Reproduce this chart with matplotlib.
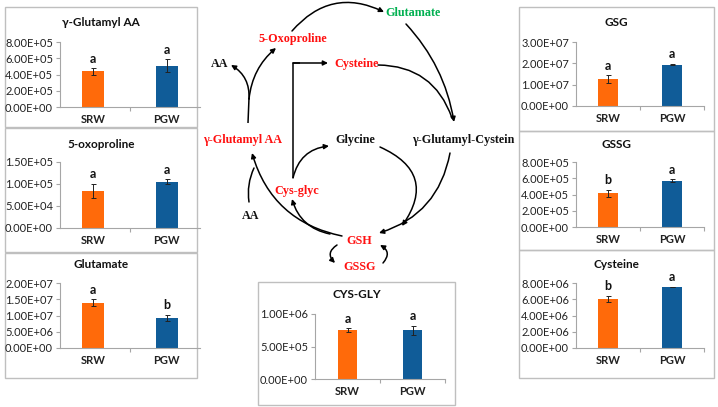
import matplotlib
matplotlib.use("Agg")
import matplotlib.pyplot as plt
from matplotlib.patches import FancyArrowPatch, Rectangle
from matplotlib.ticker import FixedLocator, FuncFormatter

# ---------------- data ----------------
groups = ["SRW", "PGW"]

titles = ["γ-Glutamyl AA", "5-oxoproline", "Glutamate", "GSG", "GSSG", "Cysteine", "CYS-GLY"]

glu_aa_vals = [4.4e5, 5.1e5]
glu_aa_err = [0.4e5, 0.75e5]
glu_aa_let = ["a", "a"]

oxo_vals = [0.85e5, 1.05e5]
oxo_err = [0.16e5, 0.06e5]
oxo_let = ["a", "a"]

glutamate_vals = [1.40e7, 0.93e7]
glutamate_err = [0.10e7, 0.10e7]
glutamate_let = ["a", "b"]

gsg_vals = [1.27e7, 1.94e7]
gsg_err = [0.18e7, 0.04e7]
gsg_let = ["a", "a"]

gssg_vals = [4.15e5, 5.72e5]
gssg_err = [0.45e5, 0.17e5]
gssg_let = ["b", "a"]

cys_vals = [6.05e6, 7.5e6]
cys_err = [0.4e6, 0.05e6]
cys_let = ["b", "a"]

cysgly_vals = [7.5e5, 7.5e5]
cysgly_err = [0.3e5, 0.7e5]
cysgly_let = ["a", "a"]

ymax = [8e5, 1.5e5, 2e7, 3e7, 8e5, 8e6, 1e6]
ystep = [2e5, 5e4, 5e6, 1e7, 2e5, 2e6, 5e5]

ORANGE = "#FF6A0A"
BLUE = "#105C98"
GRAY = "#A6A6A6"

W, H = 718, 407
fig = plt.figure(figsize=(W / 100, H / 100), dpi=100)
fig.patch.set_facecolor("white")

# overlay in pixel coordinates
ov = fig.add_axes([0, 0, 1, 1])
ov.set_xlim(0, W)
ov.set_ylim(H, 0)
ov.axis("off")

SANS = ["Lato", "DejaVu Sans"]
SERIF = ["Liberation Serif", "DejaVu Serif"]

boxes = [(5, 7, 197, 127), (5, 128, 197, 252), (5, 253, 197, 378),
         (519, 7, 714, 131), (519, 131, 714, 250), (519, 250, 714, 378),
         (258, 282, 455, 405)]
for (x0, y0, x1, y1) in boxes:
    ov.add_patch(Rectangle((x0, y0), x1 - x0, y1 - y0, fill=False,
                           edgecolor="#BFBFBF", lw=1.0))

# axes placements: (x_left, x_right, y_top(px at ymax), y_zero, title_y, xlim)
axes_spec = [
    (60, 200, 42, 107, 23, (-0.45, 1.45)),
    (60, 200, 162, 228, 145, (-0.45, 1.45)),
    (60, 200, 283, 348, 265, (-0.45, 1.45)),
    (576, 704, 42, 106, 22, (-0.5, 1.5)),
    (576, 704, 162, 227, 144, (-0.5, 1.5)),
    (576, 704, 283, 348, 265, (-0.5, 1.5)),
    (315, 445, 314, 379, 295, (-0.5, 1.5)),
]
series = [
    (glu_aa_vals, glu_aa_err, glu_aa_let),
    (oxo_vals, oxo_err, oxo_let),
    (glutamate_vals, glutamate_err, glutamate_let),
    (gsg_vals, gsg_err, gsg_let),
    (gssg_vals, gssg_err, gssg_let),
    (cys_vals, cys_err, cys_let),
    (cysgly_vals, cysgly_err, cysgly_let),
]

fmt = FuncFormatter(lambda v, p: "%.2E" % v)

for i, ((xl, xr, yt, yz, ty, xlim), (vals, errs, lets)) in enumerate(zip(axes_spec, series)):
    ax = fig.add_axes([xl / W, 1 - yz / H, (xr - xl) / W, (yz - yt) / H])
    ax.patch.set_alpha(0)
    x = list(range(len(groups)))
    ax.bar(x, vals, width=0.3, color=[ORANGE, BLUE], zorder=2)
    ax.errorbar(x, vals, yerr=errs, fmt="none", ecolor="#222222",
                elinewidth=0.7, capsize=1.8, capthick=0.7, zorder=3)
    for xi, v, e, l in zip(x, vals, errs, lets):
        ax.annotate(l, (xi, v + e), xytext=(0, 2.5), textcoords="offset points",
                    ha="center", va="bottom", fontsize=9, fontweight="bold",
                    family=SANS, color="#111111")
    ax.set_xlim(*xlim)
    ax.set_ylim(0, ymax[i])
    n = int(round(ymax[i] / ystep[i]))
    ax.yaxis.set_major_locator(FixedLocator([k * ystep[i] for k in range(n + 1)]))
    ax.yaxis.set_major_formatter(fmt)
    ax.xaxis.set_major_locator(FixedLocator([0.5, 1.5]))
    ax.xaxis.set_major_formatter(FuncFormatter(lambda v, p: ""))
    ax.xaxis.set_minor_locator(FixedLocator(x))
    ax.set_xticklabels(groups, minor=True)
    ax.tick_params(axis="x", which="minor", length=0, pad=5, labelsize=8)
    ax.tick_params(axis="x", which="major", length=3, color=GRAY, width=0.8)
    ax.tick_params(axis="y", length=3, color=GRAY, width=0.8, labelsize=8, pad=2,
                   labelcolor="#222222")
    for lab in ax.get_xticklabels(minor=True):
        lab.set_fontweight("bold")
        lab.set_family(SANS)
        lab.set_color("#222222")
    for lab in ax.get_yticklabels():
        lab.set_family(SANS)
    for s in ("top", "right"):
        ax.spines[s].set_visible(False)
    for s in ("left", "bottom"):
        ax.spines[s].set_color(GRAY)
        ax.spines[s].set_linewidth(0.8)
    bx0, _, bx1, _ = boxes[i]
    ov.text((bx0 + bx1) / 2, ty, titles[i], ha="center", va="center",
            fontsize=8.5, fontweight="bold", family=SANS, color="#111111")

# ---------------- pathway diagram ----------------
RED = "#FF1010"
GREEN = "#00B050"
labels = [
    ("Glutamate", 413, 13, GREEN),
    ("5-Oxoproline", 293, 39, RED),
    ("AA", 220, 64, "#111111"),
    ("Cysteine", 357, 64, RED),
    ("γ-Glutamyl AA", 243, 140, RED),
    ("Glycine", 355, 140, "#111111"),
    ("γ-Glutamyl-Cystein", 463, 140, "#111111"),
    ("Cys-glyc", 297, 191, RED),
    ("AA", 251, 216, "#111111"),
    ("GSH", 359, 241, RED),
    ("GSSG", 360, 267, RED),
]
for t, x, y, c in labels:
    ov.text(x, y, t, ha="center", va="center", fontsize=8.7, fontweight="bold",
            family=SERIF, color=c)


def arrow(p0, p1, rad=0.0, head=True):
    st = "-|>" if head else "-"
    a = FancyArrowPatch(p0, p1, connectionstyle="arc3,rad=%g" % rad,
                        arrowstyle=st, mutation_scale=7, lw=1.1, color="black",
                        shrinkA=0, shrinkB=0)
    ov.add_patch(a)


def line(xs, ys):
    ov.plot(xs, ys, color="black", lw=1.1, solid_capstyle="butt")


# 5-Oxoproline -> Glutamate
arrow((292, 31), (384, 12), rad=-0.38)
# Glutamate -> gamma-Glutamyl-Cystein
arrow((406, 24), (454, 122), rad=-0.15)
# Cysteine -> gamma-Glutamyl-Cystein
arrow((378, 65), (452, 118), rad=-0.35, head=False)
# gamma-Glutamyl AA up + branches
line([248, 249], [123, 98])
arrow((249, 99), (231, 65), rad=0.3)
arrow((249, 99), (276, 48), rad=-0.2)
# Cys-glyc -> Cysteine
line([293, 293, 300], [178, 63, 63])
arrow((293, 63), (328, 63))
# Cys-glyc -> Glycine
arrow((293, 178), (329, 146), rad=-0.35)
# Glycine -> GSH
arrow((380, 147), (402, 226), rad=-0.6)
# gamma-Glutamyl-Cystein -> GSH
arrow((450, 153), (379, 233), rad=-0.3)
# GSH -> gamma-Glutamyl AA
arrow((342, 236), (252, 153), rad=-0.3)
# GSH -> Cys-glyc
arrow((330, 234), (292, 199), rad=-0.3)
# AA -> merge
arrow((249, 202), (254, 168), rad=-0.15, head=False)
# GSH <-> GSSG
arrow((337, 245), (335, 263), rad=0.6)
arrow((383, 263), (380, 245), rad=0.6)

fig.savefig("out.png", dpi=100, facecolor="white")
